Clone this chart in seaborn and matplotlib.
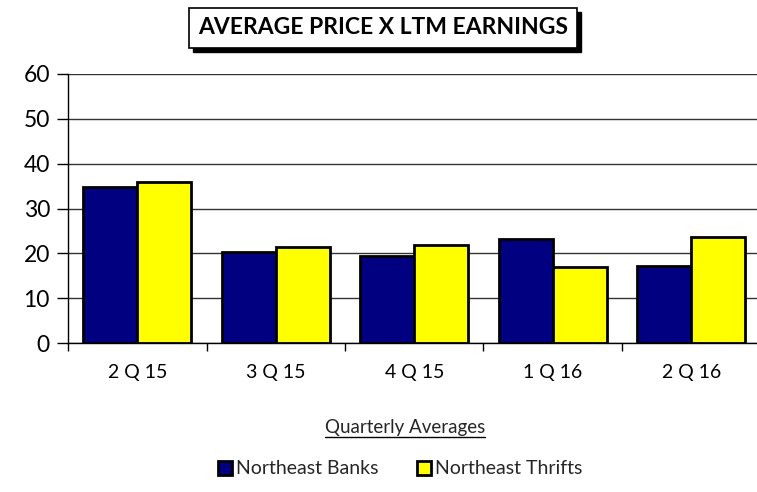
import matplotlib
matplotlib.use("Agg")
import matplotlib.pyplot as plt
from matplotlib.lines import Line2D
from matplotlib.patches import Rectangle
import seaborn as sns
import pandas as pd

quarters = ["2 Q 15", "3 Q 15", "4 Q 15", "1 Q 16", "2 Q 16"]
banks = [34.8, 20.3, 19.3, 23.1, 17.2]
thrifts = [35.9, 21.4, 21.8, 17.0, 23.6]
series_names = ["Northeast Banks", "Northeast Thrifts"]
y_ticks = [0, 10, 20, 30, 40, 50, 60]

df = pd.DataFrame({
    "Quarter": quarters * 2,
    "Value": banks + thrifts,
    "Series": [series_names[0]] * len(quarters) + [series_names[1]] * len(quarters),
})

sns.set_theme(style="white")
plt.rcParams["font.family"] = ["Lato", "DejaVu Sans"]

fig = plt.figure(figsize=(7.57, 4.92), dpi=100)
W, H = 757, 492
ax = fig.add_axes([68 / W, (H - 343) / H, 692.5 / W, 269 / H])

sns.barplot(data=df, x="Quarter", y="Value", hue="Series",
            palette=["#000080", "#FFFF00"], edgecolor="black", linewidth=2,
            width=0.78, gap=0, ax=ax, legend=True, saturation=1)

ax.set_ylim(0, 60)
ax.set_xlim(-0.5, 4.5)
ax.set_yticks(y_ticks)
ax.yaxis.grid(True, color="#333333", linewidth=1)
ax.set_axisbelow(True)
for s in ["top", "right"]:
    ax.spines[s].set_visible(False)
for s in ["left", "bottom"]:
    ax.spines[s].set_color("black")
    ax.spines[s].set_linewidth(1)
ax.tick_params(axis="y", which="major", direction="out", length=8, width=1,
               color="black", labelsize=16.5, pad=5, left=True, labelcolor="black")
ax.set_xticks(range(len(quarters)))
ax.set_xticklabels(quarters)
ax.tick_params(axis="x", which="major", length=0, labelsize=14, pad=15,
               labelcolor="black")
ax.set_xticks([i - 0.5 for i in range(len(quarters) + 1)], minor=True)
ax.tick_params(axis="x", which="minor", direction="out", length=6, width=1,
               color="black", bottom=True)
ax.set_xlabel("")
ax.set_ylabel("")

handles, labels = ax.get_legend_handles_labels()
ax.get_legend().remove()
fig.legend(handles, labels, loc="center", bbox_to_anchor=(400 / W, 1 - 469 / H),
           ncol=2, frameon=False, fontsize=14, handlelength=0.7, handleheight=0.7,
           handletextpad=0.2, columnspacing=2.0)

# x-axis label with underline
xl = fig.text(405 / W, 1 - 428 / H, "Quarterly Averages", ha="center", va="center",
              fontsize=13.5)

# title box with shadow
tx, ty = 383 / W, 1 - 28 / H
tt = fig.text(tx, ty, "AVERAGE PRICE X LTM EARNINGS", ha="center", va="center",
              fontsize=16.5, fontweight="bold", color="black", zorder=5,
              bbox=dict(boxstyle="square,pad=0.4", fc="white", ec="black", lw=1.2))

fig.canvas.draw()
r = fig.canvas.get_renderer()
pb = tt.get_bbox_patch().get_window_extent(renderer=r)
fig.add_artist(Rectangle(((pb.x0 + 4) / W, (pb.y0 - 4) / H), pb.width / W, pb.height / H,
                         transform=fig.transFigure, fc="black", ec="black", zorder=4))

bb = xl.get_window_extent(renderer=r)
uy = (bb.y0 - 0.5) / H
fig.add_artist(Line2D([bb.x0 / W, bb.x1 / W], [uy, uy], transform=fig.transFigure,
                      color="black", linewidth=1))

fig.savefig("out.png", dpi=100)
